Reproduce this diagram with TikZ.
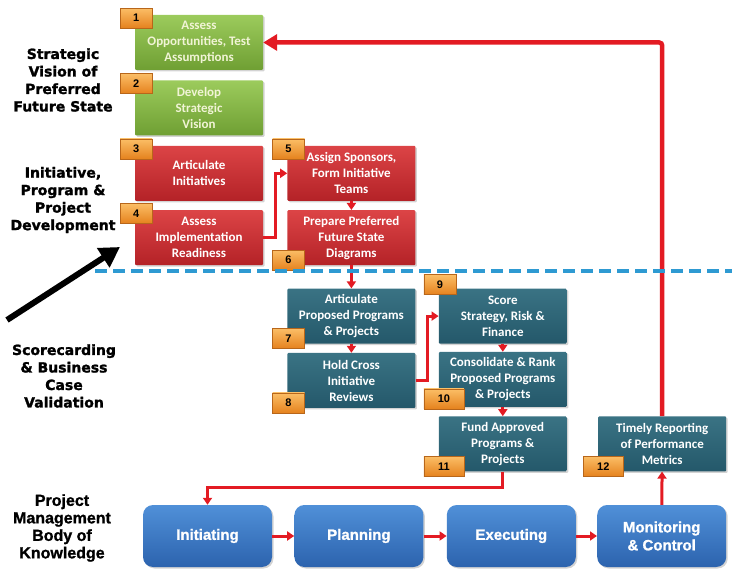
\documentclass[tikz,border=0pt]{standalone}
\usepackage{fontspec}
\setmainfont{Carlito}
\newfontfamily\labelfont[BoldFeatures={FakeBold=1.6}]{DejaVu Sans}
\newfontfamily\pmfont{Liberation Sans}
\newfontfamily\pmheavy[BoldFeatures={FakeBold=1.2}]{Liberation Sans}
\usepackage{xcolor}
\usepackage{tikz}
\usetikzlibrary{arrows.meta,positioning,shadows}
\definecolor{visiontop}{HTML}{9CCB5C}
\definecolor{visionbot}{HTML}{6F9F33}
\definecolor{visiontext}{HTML}{F1F4D6}
\definecolor{redtop}{HTML}{DC4446}
\definecolor{redbot}{HTML}{B42227}
\definecolor{tealtop}{HTML}{3A7384}
\definecolor{tealbot}{HTML}{24586A}
\definecolor{bluetop}{HTML}{5090D8}
\definecolor{bluebot}{HTML}{2C63AE}
\definecolor{badgetop}{HTML}{FBBE66}
\definecolor{badgebot}{HTML}{E5821E}
\definecolor{badgeedge}{HTML}{B8661A}
\definecolor{flowred}{HTML}{E31B23}
\definecolor{sepblue}{HTML}{2E9AD2}
\tikzset{
  stepbox/.style={
    rounded corners=1pt,
    align=center,
    minimum width=128pt,
    minimum height=55pt,
    inner sep=2pt,
    text=white,
    font=\fontsize{13}{16}\selectfont\bfseries,
    drop shadow={opacity=0.35, shadow xshift=1.5pt, shadow yshift=-1.5pt}
  },
  visionbox/.style={stepbox, top color=visiontop, bottom color=visionbot, text=visiontext},
  initbox/.style={stepbox, top color=redtop, bottom color=redbot},
  scorebox/.style={stepbox, top color=tealtop, bottom color=tealbot},
  pmbox/.style={stepbox, rounded corners=10pt, minimum width=129pt, minimum height=62pt,
    top color=bluetop, bottom color=bluebot, font=\pmheavy\fontsize{15}{18}\selectfont\bfseries},
  badge/.style={draw=badgeedge, line width=0.6pt, top color=badgetop, bottom color=badgebot,
    minimum width=32pt, minimum height=20pt, inner sep=1pt, text=black,
    font=\pmfont\fontsize{11}{12}\selectfont\bfseries},
  phaselabel/.style={align=center, font=\labelfont\fontsize{14}{17.5}\selectfont\bfseries},
  pmlabel/.style={align=center, font=\pmheavy\fontsize{16}{17.5}\selectfont\bfseries},
  flow/.style={-{Triangle[length=7pt,width=9pt]}, line width=3pt, draw=flowred},
  loopflow/.style={flow, line width=4.5pt, -{Triangle[length=14pt,width=16pt]}, rounded corners=3pt},
  separator/.style={draw=sepblue, line width=3.5pt, dash pattern=on 12pt off 6pt},
  pointer/.style={line width=6pt, -{Triangle[length=20pt,width=22pt]}}
}

\begin{document}
\begin{tikzpicture}[x=1pt, y=-1pt, node distance=9pt and 24pt]
\useasboundingbox (0,0) rectangle (732,572);

\node[phaselabel] (strategic) at (63,80) {Strategic\\Vision of\\Preferred\\Future State};
\node[phaselabel] (initiative) at (63,200) {Initiative,\\Program \&\\Project\\Development};
\node[phaselabel] (scorecarding) at (64,376) {Scorecarding\\\& Business\\Case\\Validation};
\node[pmlabel] (pmbok) at (62,528) {Project\\Management\\Body of\\Knowledge};

\node[visionbox] (assess) at (199,42.5) {Assess\\Opportunities, Test\\Assumptions};
\node[visionbox, below=10pt of assess] (vision) {Develop\\Strategic\\Vision};
\node[initbox, below=10pt of vision] (articulate) {Articulate\\Initiatives};
\node[initbox, below=of articulate] (readiness) {Assess\\Implementation\\Readiness};
\node[initbox, right=of articulate] (sponsors) {Assign Sponsors,\\Form Initiative\\Teams};
\node[initbox, below=of sponsors] (diagrams) {Prepare Preferred\\Future State\\Diagrams};
\node[scorebox, below=23pt of diagrams] (proposed) {Articulate\\Proposed Programs\\\& Projects};
\node[scorebox, below=of proposed] (reviews) {Hold Cross\\Initiative\\Reviews};
\node[scorebox, right=23pt of proposed] (score) {Score\\Strategy, Risk \&\\Finance};
\node[scorebox, below=8pt of score] (rank) {Consolidate \& Rank\\Proposed Programs\\\& Projects};
\node[scorebox, below=of rank] (fund) {Fund Approved\\Programs \&\\Projects};
\node[scorebox, right=31pt of fund] (reporting) {Timely Reporting\\of Performance\\Metrics};

\node[pmbox] (initiating) at (207.5,536) {Initiating};
\node[pmbox, right=22pt of initiating] (planning) {Planning};
\node[pmbox, right=23pt of planning] (executing) {Executing};
\node[pmbox, right=21pt of executing] (monitoring) {Monitoring\\\& Control};

\node[badge, anchor=north west] (n1) at ([shift={(-15pt,7pt)}]assess.north west) {1};
\node[badge, anchor=north west] (n2) at ([shift={(-15pt,7pt)}]vision.north west) {2};
\node[badge, anchor=north west] (n3) at ([shift={(-15pt,7pt)}]articulate.north west) {3};
\node[badge, anchor=north west] (n4) at ([shift={(-15pt,7pt)}]readiness.north west) {4};
\node[badge, anchor=north west] (n5) at ([shift={(-15pt,7pt)}]sponsors.north west) {5};
\node[badge, anchor=south west] (n6) at ([shift={(-15pt,-5pt)}]diagrams.south west) {6};
\node[badge, anchor=south west] (n7) at ([shift={(-15pt,-5pt)}]proposed.south west) {7};
\node[badge, anchor=south west] (n8) at ([shift={(-15pt,-5pt)}]reviews.south west) {8};
\node[badge, anchor=north west] (n9) at ([shift={(-15pt,14pt)}]score.north west) {9};
\node[badge, anchor=south west, minimum width=40pt] (n10) at ([shift={(-15pt,-2pt)}]rank.south west) {10};
\node[badge, anchor=south west, minimum width=40pt] (n11) at ([shift={(-15pt,-5pt)}]fund.south west) {11};
\node[badge, anchor=south west, minimum width=40pt] (n12) at ([shift={(-15pt,-5pt)}]reporting.south west) {12};

\draw[flow] (readiness.east) -- ++(12,0) |- (sponsors.west);
\draw[flow] (sponsors) -- (diagrams);
\draw[flow] (diagrams) -- (proposed);
\draw[flow] (proposed) -- (reviews);
\draw[flow] (reviews.east) -- ++(12,0) |- (score.west);
\draw[flow] (score) -- (rank);
\draw[flow] (rank) -- (fund);
\draw[flow] (fund.south) -- ++(0,16) -| (initiating.north);
\draw[flow] (initiating) -- (planning);
\draw[flow] (planning) -- (executing);
\draw[flow] (executing) -- (monitoring);
\draw[flow] (monitoring) -- (reporting);
\draw[loopflow] (reporting.north) |- (assess.east);

\coordinate (sepwest) at (95,271);
\coordinate (sepeast) at (732,271);
\draw[separator] (sepwest) -- (sepeast);

\coordinate (pointtail) at (7,320);
\coordinate (pointhead) at (120,247);
\draw[pointer] (pointtail) -- (pointhead);
\end{tikzpicture}
\end{document}
